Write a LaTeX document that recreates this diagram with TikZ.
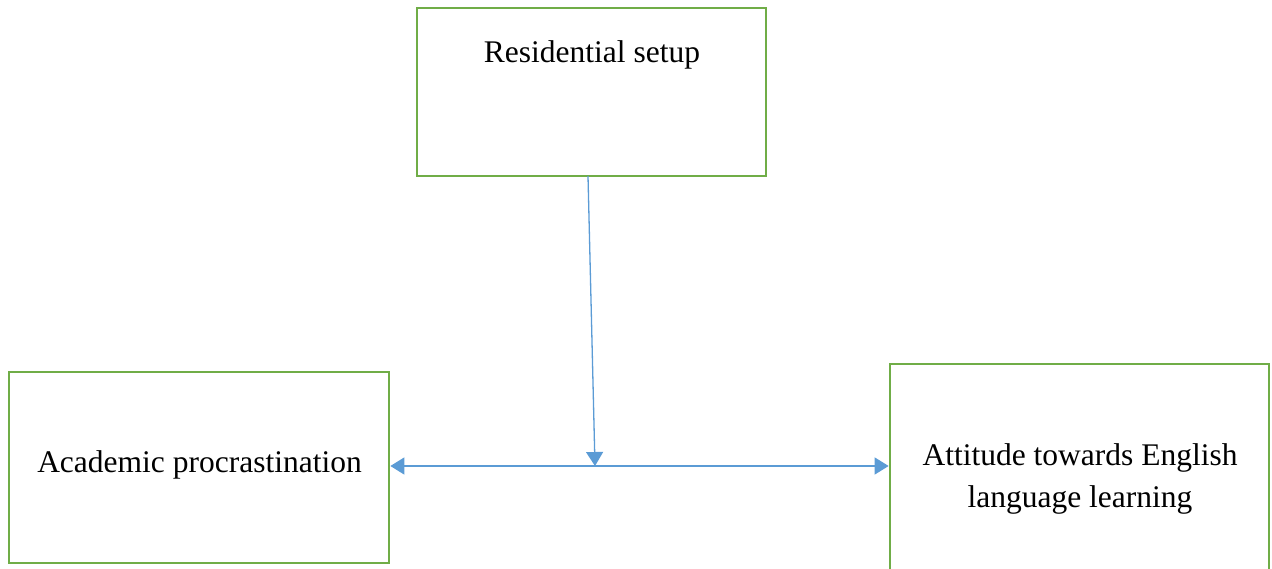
\documentclass[tikz,border=0pt]{standalone}
\usepackage{fontspec}
\setmainfont{Liberation Serif}
\usetikzlibrary{arrows.meta}
\definecolor{boxgreen}{HTML}{70AD47}
\definecolor{arrowblue}{HTML}{5B9BD5}
\begin{document}
\begin{tikzpicture}[x=1pt,y=1pt,
  box/.style={draw=boxgreen, line width=2.7pt, fill=white, inner sep=0pt},
  txt/.style={font=\fontsize{31.5}{42}\selectfont, align=center, inner sep=0pt},
  conn/.style={draw=arrowblue, line width=1.3pt}]
\useasboundingbox (0,0) rectangle (1272,-569);
\clip (0,0) rectangle (1272,-569);
\node[box, minimum width=349pt, minimum height=168pt] (top) at (591.5,-92) {};
\node[txt] (toptext) at (592,-54.5) {Residential setup};
\node[box, minimum width=380pt, minimum height=191pt] (left) at (199,-467.5) {};
\node[txt] (lefttext) at (199.5,-464.5) {Academic procrastination};
\node[box, minimum width=379pt, minimum height=224pt] (right) at (1079.5,-476) {};
\node[txt] (righttext) at (1080,-478.5) {Attitude towards English\\language learning};
\coordinate (topout) at (588,-176);
\coordinate (mid) at (595,-466);
\draw[conn, -{Triangle[length=14pt,width=17pt]}] (topout) -- (mid);
\draw[conn, {Triangle[length=14pt,width=17pt]}-{Triangle[length=14pt,width=17pt]}] (left.east |- mid) -- (right.west |- mid);
\end{tikzpicture}
\end{document}
